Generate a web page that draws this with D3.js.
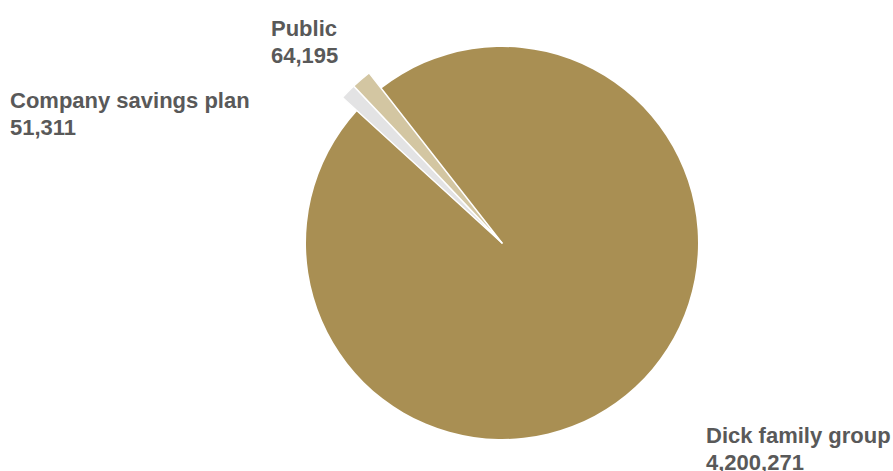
<!DOCTYPE html>
<html><head><meta charset="utf-8">
<script src="https://cdn.jsdelivr.net/npm/d3@7"></script>
<style>body{margin:0;background:#fff}svg{display:block}</style>
</head><body>
<svg id="c" width="893" height="471"></svg>
<script>
const categories = ["Dick family group", "Company savings plan", "Public"];
const values = [4200271, 51311, 64195];
const valueLabels = ["4,200,271", "51,311", "64,195"];
const colors = ["#a98f53", "#e3e3e4", "#d3c6a2"];

const svg = d3.select("#c");
const cx = 502, cy = 243;
const deg = Math.PI / 180;
const pie = d3.pie().sort(null).value(d => d)
  .startAngle(-38 * deg).endAngle(322 * deg);
const arcs = pie(values);
const g = svg.append("g").attr("transform", `translate(${cx},${cy})`);
const rMain = 196, rSmall = 216;
g.selectAll("path").data(arcs).enter().append("path")
  .attr("d", (d, i) => d3.arc().innerRadius(0).outerRadius(i === 0 ? rMain : rSmall)(d))
  .attr("fill", (d, i) => colors[i])
  .attr("stroke", "#fff")
  .attr("stroke-width", (d, i) => i === 0 ? 0 : 1.5)
  .attr("stroke-linejoin", "round");

const labelPos = [[706, 443], [10, 108], [271, 36]];
categories.forEach((c, i) => {
  const t = svg.append("text")
    .attr("transform", `translate(${labelPos[i][0]},${labelPos[i][1]})`)
    .attr("font-family", "Liberation Sans, Arial, sans-serif")
    .attr("font-weight", "bold").attr("font-size", 22)
    .attr("fill", "#595959");
  t.append("tspan").attr("x", 0).attr("y", 0).text(c);
  t.append("tspan").attr("x", 0).attr("y", 27).text(valueLabels[i]);
});
</script>
</body></html>
